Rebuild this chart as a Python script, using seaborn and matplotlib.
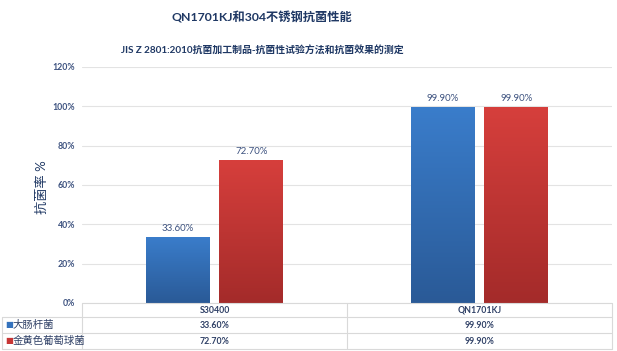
import numpy as np
import pandas as pd
import matplotlib
matplotlib.use("Agg")
import matplotlib.pyplot as plt
import seaborn as sns
from matplotlib.colors import LinearSegmentedColormap

categories = ["S30400", "QN1701KJ"]
series = ["大肠杆菌", "金黄色葡萄球菌"]
values_ecoli = [33.60, 99.90]
values_staph = [72.70, 99.90]
y_ticks = [0, 20, 40, 60, 80, 100, 120]

title = "QN1701KJ和304不锈钢抗菌性能"
subtitle = "JIS Z 2801:2010抗菌加工制品-抗菌性试验方法和抗菌效果的测定"
ylabel = "抗菌率 %"

df = pd.DataFrame({
    "cat": categories * 2,
    "series": [series[0]] * 2 + [series[1]] * 2,
    "val": values_ecoli + values_staph,
})

sns.set_theme(style="white")
plt.rcParams["font.family"] = ["Lato", "Noto Sans CJK SC", "DejaVu Sans"]

W, H = 617, 351
fig = plt.figure(figsize=(W / 100, H / 100), dpi=100)
fig.patch.set_facecolor("white")

L, R, T, B = 82, 612, 67, 303
ax = fig.add_axes([L / W, 1 - B / H, (R - L) / W, (B - T) / H])

colors = ["#3472BD", "#C73636"]
sns.barplot(data=df, x="cat", y="val", hue="series", order=categories,
            hue_order=series, palette=colors, width=0.558, gap=0.135,
            legend=False, ax=ax, saturation=1, edgecolor="none")

ax.set_ylim(0, 120)
ax.set_xlim(-0.5, 1.5)
ax.set_yticks(y_ticks)
ax.set_yticklabels([f"{v}%" for v in y_ticks], fontsize=6.3,
                   color="#3E5380", fontweight="bold")
ax.tick_params(axis="y", length=0, pad=5)
ax.set_xticks([])
ax.set_xlabel("")
ax.set_ylabel("")
ax.grid(axis="y", color="#E3E3E3", linewidth=0.8)
ax.set_axisbelow(True)
for s in ax.spines.values():
    s.set_visible(False)

# gradient fill
grads = [
    LinearSegmentedColormap.from_list("b", ["#2A5A97", "#3A7DCB"]),
    LinearSegmentedColormap.from_list("r", ["#A42B2A", "#D63F3C"]),
]
grad = np.linspace(0, 1, 100).reshape(-1, 1)
for i, p in enumerate(ax.patches):
    si = i // 2
    x0, y0 = p.get_x(), p.get_y()
    w, h = p.get_width(), p.get_height()
    im = ax.imshow(grad, cmap=grads[si], aspect="auto", origin="lower",
                   extent=[x0, x0 + w, y0, y0 + h], zorder=p.get_zorder() + 0.1)
    im.set_clip_path(p)
    ax.text(x0 + w / 2, h + 1.8, f"{h:.2f}%", ha="center", va="bottom",
            fontsize=7, color="#3E5380")
ax.set_xlim(-0.5, 1.5)
ax.set_ylim(0, 120)

fig.text(262 / W, 1 - 17 / H, title, ha="center", va="center",
         fontsize=8.8, fontweight="bold", color="#1F3864")
fig.text(262 / W, 1 - 50 / H, subtitle, ha="center", va="center",
         fontsize=7.1, fontweight="bold", color="#1F3864")
fig.text(42 / W, 1 - 187 / H, ylabel, ha="center", va="center", rotation=90,
         fontsize=9.5, color="#1F3864")

# data table
lc = "#D9D9D9"
def hline(y, x0, x1):
    fig.add_artist(plt.Line2D([x0 / W, x1 / W], [1 - y / H, 1 - y / H],
                              color=lc, lw=0.8))
def vline(x, y0, y1):
    fig.add_artist(plt.Line2D([x / W, x / W], [1 - y0 / H, 1 - y1 / H],
                              color=lc, lw=0.8))

rows = [303, 317, 333, 349]
mid = (L + R) / 2
hline(303, L, R)
for y in rows[1:]:
    hline(y, 2, R)
vline(L, 303, 349)
vline(mid, 303, 349)
vline(R, 303, 349)
vline(2, 317, 349)

centers = [(L + mid) / 2, (mid + R) / 2]
tc = "#2F4066"
for c, name in zip(centers, categories):
    fig.text(c / W, 1 - 310.5 / H, name, ha="center", va="center",
             fontsize=6.3, fontweight="bold", color=tc)
for ri, (sname, vals) in enumerate(zip(series, [values_ecoli, values_staph])):
    yc = (rows[ri + 1] + rows[ri + 2]) / 2
    fig.text(5 / W, 1 - yc / H, "■", ha="left", va="center", fontsize=6,
             color=colors[ri], family="DejaVu Sans")
    fig.text(13 / W, 1 - yc / H, sname, ha="left", va="center",
             fontsize=7.5, color=tc)
    for c, v in zip(centers, vals):
        fig.text(c / W, 1 - yc / H, f"{v:.2f}%", ha="center", va="center",
                 fontsize=6.3, fontweight="bold", color=tc)

fig.savefig("out.png", dpi=100)
